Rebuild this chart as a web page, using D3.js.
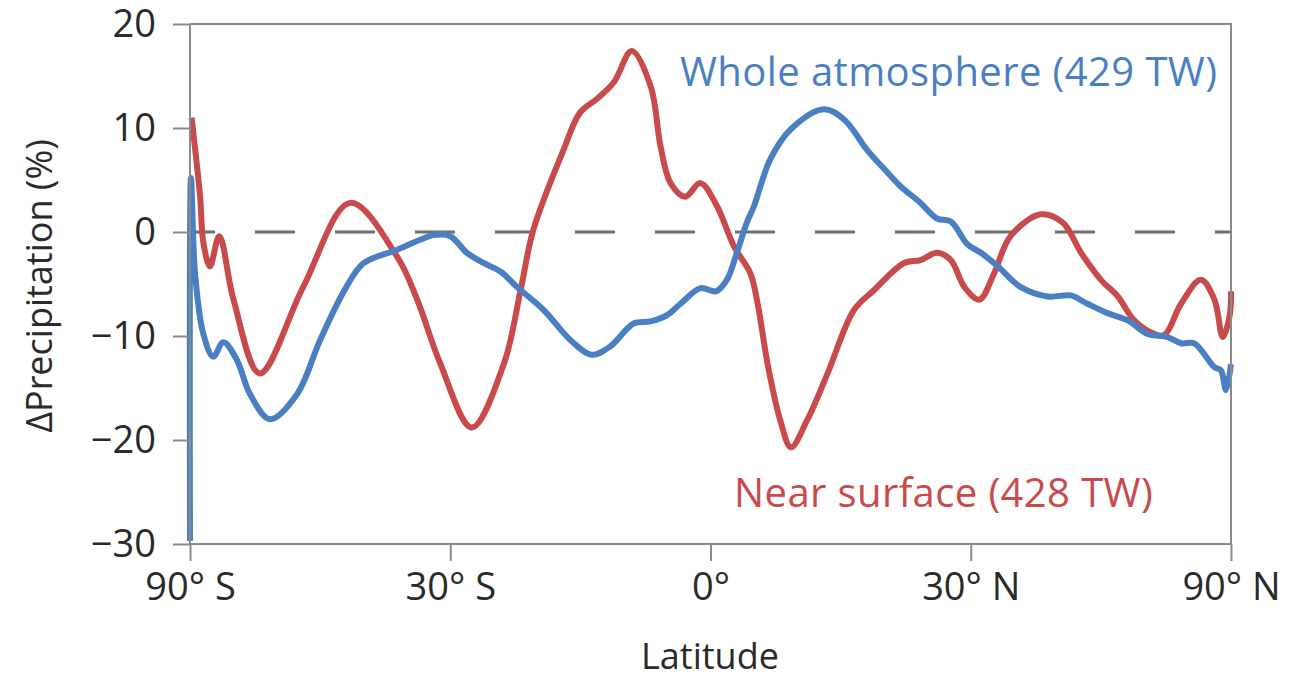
<!DOCTYPE html>
<html>
<head>
<meta charset="utf-8">
<script src="https://cdn.jsdelivr.net/npm/d3@7"></script>
<style>
  body { margin: 0; background: #fff; }
  text { font-family: "Open Sans", "Noto Sans", sans-serif; }
</style>
</head>
<body>
<svg id="chart" width="1307" height="678"></svg>
<script>
// latitude (deg) and change in precipitation (%)
const nearLat = [-85.5, -78.7, -77, -74.1, -70.7, -66.4, -60, -51.5, -43.8, -37, -34.3, -31.3, -27.3, -23.4, -21.4, -19.9, -16.4, -14.5, -12.6, -10.7, -8.7, -6.6, -5.5, -4.4, -2.8, -1.1, 0.7, 2.6, 4.4, 5.2, 6.3, 7.7, 8.9, 10.7, 13, 16, 18.3, 21.8, 23.8, 25.8, 27.5, 29.2, 31.1, 33, 35.2, 39.4, 42.6, 45.4, 48.6, 51.5, 54.5, 58.5, 60.7, 64.7, 70.4, 75.5, 79.8, 86, 90];
const nearVal = [11, 3.4, -1, -3.3, -0.4, -6.5, -13.6, -5.3, 2.8, -2.4, -6.5, -12.6, -18.8, -12.7, -5.6, 0.2, 7.9, 11.5, 12.8, 14.4, 17.4, 14, 8.2, 4.7, 3.4, 4.7, 2.5, -1.4, -4, -6.9, -12.7, -18.1, -20.7, -18.1, -13.6, -7.5, -5.6, -3, -2.7, -2, -2.7, -5.3, -6.5, -4, -0.4, 1.7, 0.9, -2, -4.6, -6.2, -8.5, -9.8, -9.9, -6.9, -4.6, -6.5, -10.1, -8, -5.7];

const wholeLat = [-89.5, -86.5, -82, -77, -72.8, -69.4, -65.5, -62.2, -57.8, -52.6, -48.6, -44.5, -41.8, -37, -33.9, -32.1, -30, -27.9, -25.8, -23.8, -21.8, -18.7, -15.6, -13.2, -11.1, -8.5, -6.6, -4.8, -3.3, -1.1, 0.6, 1.8, 2.9, 4, 4.8, 6.6, 8.9, 12.6, 14.9, 17.5, 19.9, 21.4, 23.8, 25.8, 27.5, 29.6, 31.3, 33.5, 36.6, 40.4, 43.8, 46.4, 49.7, 53.3, 57.1, 61.4, 64.7, 68.3, 75.5, 78.7, 82, 90];
const wholeVal = [-29.7, 5.2, -4, -9.8, -12, -10.6, -12.3, -15.6, -18, -15.6, -10.4, -5.4, -3, -1.7, -0.75, -0.3, -0.4, -2, -3, -3.8, -5.3, -7.5, -10.4, -11.8, -11, -8.8, -8.6, -8, -6.9, -5.4, -5.7, -4.6, -2, 0.9, 2.5, 7, 9.9, 11.8, 10.8, 7.9, 5.7, 4.4, 2.8, 1.3, 1, -1.2, -2, -3.3, -5.3, -6.2, -6.1, -6.9, -7.8, -8.5, -9.8, -10.1, -10.7, -10.7, -13, -13.3, -15.2, -12.7];

const yTicks = [-30, -20, -10, 0, 10, 20];
const xTicks = [-90, -30, 0, 30, 90];
const xTickLabels = ["90° S", "30° S", "0°", "30° N", "90° N"];

const svg = d3.select("#chart");
const mLeft = 190, mRight = 1231, mTop = 24, mBottom = 544;
const axisColor = "#8a8a8a";

// x axis is linear in sin(latitude)
const sinDeg = lat => Math.sin(lat * Math.PI / 180);
const xs = d3.scaleLinear().domain([-1, 1]).range([mLeft, mRight]);
const x = lat => xs(sinDeg(lat));
const y = d3.scaleLinear().domain([-30, 20]).range([mBottom, mTop]);

// zero line
svg.append("line")
  .attr("x1", mLeft).attr("x2", mRight)
  .attr("y1", y(0)).attr("y2", y(0))
  .attr("stroke", "#6e6e6e")
  .attr("stroke-width", 3)
  .attr("stroke-dasharray", "40,40")
  .attr("stroke-dashoffset", 15);

const line = d3.line()
  .x(d => x(d[0]))
  .y(d => y(d[1]))
  .curve(d3.curveCatmullRom.alpha(0.5));

svg.append("path")
  .datum(nearLat.map((d, i) => [d, nearVal[i]]))
  .attr("d", line)
  .attr("fill", "none")
  .attr("stroke", "#c84a4b")
  .attr("stroke-width", 6)
  .attr("stroke-linejoin", "round");

svg.append("path")
  .datum(wholeLat.map((d, i) => [d, wholeVal[i]]))
  .attr("d", line)
  .attr("fill", "none")
  .attr("stroke", "#4a80c3")
  .attr("stroke-width", 6)
  .attr("stroke-linejoin", "round");

// frame
svg.append("path")
  .attr("d", `M${mLeft},${mTop}H${mRight}V${mBottom}`)
  .attr("fill", "none")
  .attr("stroke", axisColor)
  .attr("stroke-width", 2);

const yAxis = svg.append("g")
  .attr("transform", `translate(${mLeft},0)`)
  .call(d3.axisLeft(y).tickValues(yTicks).tickSize(17).tickPadding(17)
    .tickFormat(d => d < 0 ? "\u2212" + Math.abs(d) : d));

const xAxis = svg.append("g")
  .attr("transform", `translate(0,${mBottom})`)
  .call(d3.axisBottom(xs).tickValues(xTicks.map(sinDeg)).tickSize(17).tickPadding(12)
    .tickFormat((d, i) => xTickLabels[i]));

[yAxis, xAxis].forEach(g => {
  g.selectAll("path, line").attr("stroke", axisColor).attr("stroke-width", 2);
  g.selectAll("text").attr("fill", "#2a2a2a").style("font-size", "38px");
});
yAxis.select(".domain").attr("d", `M0,${mTop}V${mBottom}`);
xAxis.select(".domain").attr("d", `M${mLeft},0H${mRight}`);

svg.append("text")
  .attr("x", 710).attr("y", 669)
  .attr("text-anchor", "middle")
  .attr("fill", "#2a2a2a")
  .style("font-size", "36px")
  .text("Latitude");

svg.append("text")
  .attr("transform", "translate(52,286) rotate(-90)")
  .attr("text-anchor", "middle")
  .attr("fill", "#2a2a2a")
  .style("font-size", "36px")
  .text("\u0394Precipitation (%)");

svg.append("text")
  .attr("x", 680).attr("y", 86)
  .attr("fill", "#4a80c3")
  .style("font-size", "40px")
  .style("letter-spacing", "0.4px")
  .text("Whole atmosphere (429 TW)");

svg.append("text")
  .attr("x", 734).attr("y", 507)
  .attr("fill", "#c84a4b")
  .style("font-size", "40px")
  .style("letter-spacing", "0.4px")
  .text("Near surface (428 TW)");
</script>
</body>
</html>
